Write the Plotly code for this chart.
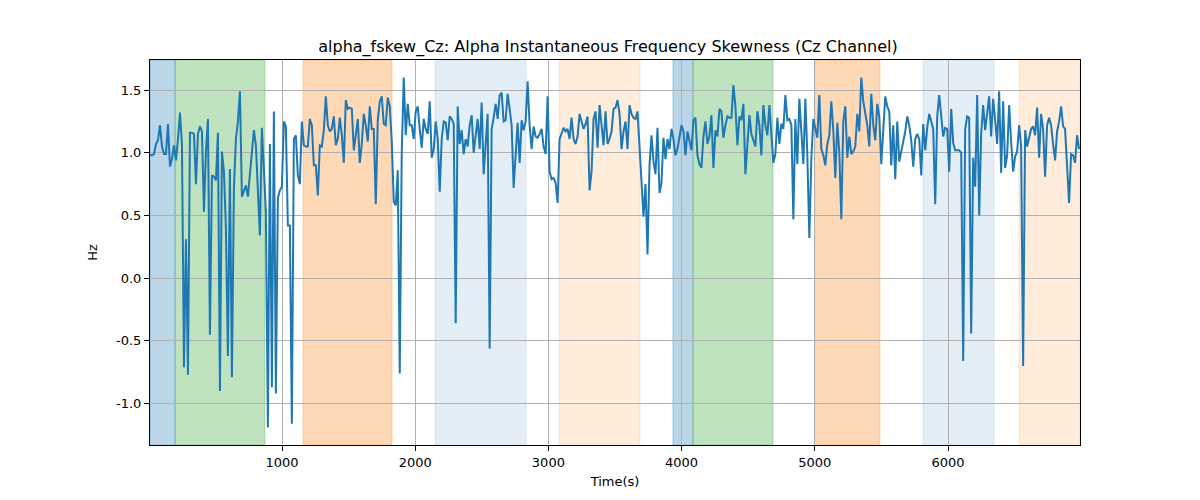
import numpy as np
import plotly.graph_objects as go

# ---- data ----
seg1 = [0.98, 0.98, 0.99, 1.07, 1.10, 1.22, 1.05, 0.99, 0.99, 1.23, 0.89, 0.95, 1.06, 0.94, 1.11, 1.32,
        1.06, -0.71, 0.31, -0.77, 1.16, 1.16, 1.15, 0.75, 1.15, 1.21, 1.17, 0.53, 1.01, 1.27, -0.45,
        0.82, 0.81, 0.78, 1.16, -0.90, 1.01, 0.85, 0.40, -0.62, 0.87, -0.79, 0.72, 1.11, 1.25, 1.49,
        0.65, 0.69, 0.74, 0.65, 0.85, 1.02, 1.18, 1.06, 0.69, 0.34, 1.20, 0.85, 0.53, -1.19, 1.07,
        -0.87, 1.33, -0.92, 0.64, 0.70, 0.73]
seg2 = [1.25, 1.21, 0.42, 0.42, -1.16, 1.11, 1.14, 0.82, 0.75, 1.25, 1.06, 1.05, 1.05, 1.27, 1.22,
        0.90, 0.90, 0.66, 1.06, 1.05, 1.18, 1.45, 1.22, 1.17, 1.19, 1.29, 1.06, 1.11, 1.28, 1.14,
        0.92, 1.42, 1.35, 1.36, 1.35, 1.02, 1.14, 1.27, 0.92, 1.07, 1.31, 1.22, 1.09, 1.37, 1.19,
        1.19, 0.59, 1.26, 1.41, 1.45, 1.23, 1.22, 1.44, 1.37, 1.09, 0.61, 0.58, 0.86, -0.76, 1.01,
        1.60, 1.14, 1.39, 1.22, 1.22, 1.11, 1.33]
seg3 = [1.37, 1.19, 1.04, 1.27, 1.19, 1.15, 1.41, 0.96, 1.03, 1.25, 1.11, 0.69, 1.11, 1.25, 1.24,
        1.10, 1.29, 1.27, 1.23, -0.36, 1.37, 1.07, 1.18, 0.99, 1.11, 1.05, 1.22, 1.30, 1.00, 1.14,
        1.27, 1.03, 1.40, 0.83, 1.06, 1.31, -0.56, 1.19, 1.28, 1.39, 1.27, 1.46, 1.48, 1.25, 1.26,
        1.47, 1.35, 1.22, 0.72, 0.98, 1.24, 0.92, 1.26, 1.18, 1.25, 1.57, 1.22, 1.03, 1.21, 1.13,
        1.12, 1.15, 1.19, 1.05, 0.99, 1.45, 0.85, 0.79]
seg4 = [0.80, 0.76, 0.60, 1.11, 1.15, 1.20, 1.17, 1.19, 1.11, 1.28, 1.11, 1.07, 1.13, 1.31, 1.25,
        1.19, 1.23, 1.29, 0.70, 0.85, 1.27, 1.33, 1.04, 1.38, 1.22, 1.06, 1.33, 1.07, 1.11, 1.17,
        1.35, 1.36, 1.42, 1.31, 1.03, 1.17, 1.25, 1.03, 1.38, 1.31, 1.28, 1.27, 1.33, 1.03, 0.76,
        0.49, 0.75, 0.19, 0.90, 1.14, 0.93, 0.83, 1.20, 0.68, 0.76, 1.12, 0.95, 1.11, 1.03, 1.19,
        1.11, 0.98, 1.03, 1.11, 1.22, 1.17, 0.98]
seg5 = [1.17, 1.10, 1.02, 1.26, 1.28, 0.98, 0.91, 0.88, 1.13, 1.25, 1.07, 1.13, 1.30, 0.88, 1.18,
        1.13, 1.35, 1.33, 1.12, 1.22, 1.29, 1.28, 1.28, 1.54, 1.37, 1.06, 1.29, 1.26, 1.39, 0.83,
        1.06, 1.30, 1.15, 1.10, 1.05, 1.33, 1.22, 0.98, 1.38, 1.22, 1.14, 1.38, 1.14, 0.92, 0.99,
        1.28, 1.07, 1.23, 1.19, 1.46, 1.26, 1.27, 1.22, 0.47, 1.27, 0.91, 1.43, 1.19, 0.91, 1.43,
        0.98, 0.32, 0.95, 1.27, 1.18, 1.12, 1.46, 1.03]
seg6 = [0.98, 0.90, 1.07, 1.14, 1.41, 1.18, 0.80, 1.24, 1.00, 0.47, 1.25, 1.37, 0.96, 1.13, 0.99,
        1.01, 1.05, 1.31, 1.17, 1.60, 1.41, 1.30, 1.22, 1.05, 1.47, 1.22, 1.10, 1.39, 1.29, 0.91,
        1.20, 1.45, 1.37, 1.33, 0.90, 1.22, 0.79, 1.25, 0.93, 1.01, 1.10, 1.17, 1.29, 1.22, 1.10,
        0.89, 1.11, 1.15, 1.11, 0.82, 1.23, 1.02, 1.20, 1.31, 1.25, 1.19, 0.59, 1.29, 1.46, 1.30,
        1.13, 1.20, 1.19, 0.85, 1.35, 1.08, 1.02]
seg7 = [1.02, 1.02, 1.00, -0.66, 1.19, 1.29, 1.28, -0.44, 0.96, 0.73, 1.46, 0.50, 1.15, 1.38, 1.18,
        1.33, 1.45, 1.13, 1.43, 1.26, 1.07, 1.49, 0.84, 1.41, 0.88, 0.98, 1.38, 1.09, 0.85, 0.97,
        1.01, 1.22, 1.05, -0.70, 1.18, 1.05, 1.13, 1.19, 1.21, 1.14, 1.36, 0.96, 1.31, 1.19, 0.81,
        1.22, 1.28, 1.22, 1.07, 0.94, 1.17, 1.25, 1.37, 1.21, 1.19, 0.88, 0.60, 0.99, 0.98, 0.92,
        1.14, 1.03]
values = seg1 + seg2 + seg3 + seg4 + seg5 + seg6 + seg7

t_start = 9.0
t_step = 15.0
time = t_start + t_step * np.arange(len(values))

# shaded spans: (start, end, color)
span_starts = [9, 197, 1158, 2149, 3080, 3935, 4085, 5000, 5812, 6533]
span_ends = [197, 872, 1826, 2832, 3688, 4085, 4686, 5489, 6345, 6991]
span_colors = ["rgba(31,119,180,0.3)", "rgba(44,160,44,0.3)", "rgba(255,127,14,0.3)",
               "rgba(31,119,180,0.12)", "rgba(255,127,14,0.15)", "rgba(31,119,180,0.3)",
               "rgba(44,160,44,0.3)", "rgba(255,127,14,0.3)", "rgba(31,119,180,0.12)",
               "rgba(255,127,14,0.15)"]

x_ticks = [1000, 2000, 3000, 4000, 5000, 6000]
y_ticks = [-1.0, -0.5, 0.0, 0.5, 1.0, 1.5]

fig = go.Figure()
for a, b, c in zip(span_starts, span_ends, span_colors):
    fig.add_vrect(x0=a, x1=b, fillcolor=c, line=dict(color=c, width=1), layer="below")

fig.add_trace(go.Scatter(x=time, y=values, mode="lines",
                         line=dict(color="#1f77b4", width=2), showlegend=False))

axis_common = dict(showgrid=True, gridcolor="#b0b0b0", gridwidth=1, zeroline=False,
                   showline=True, linecolor="black", linewidth=1, mirror=True,
                   ticks="outside", ticklen=5, tickcolor="black",
                   tickfont=dict(size=13, color="black"))

fig.update_layout(
    width=1200, height=500,
    margin=dict(l=142, r=128, t=52, b=63),
    paper_bgcolor="white", plot_bgcolor="white",
    font=dict(family="DejaVu Sans", color="black"),
    title=dict(text="alpha_fskew_Cz: Alpha Instantaneous Frequency Skewness (Cz Channel)",
               x=0.5, xanchor="center", y=0.924, yanchor="middle",
               font=dict(size=16, color="black")),
)
fig.update_xaxes(range=[9, 6991], tickvals=x_ticks, ticktext=[str(v) for v in x_ticks],
                 title=dict(text="Time(s)", font=dict(size=13), standoff=8), **axis_common)
fig.update_yaxes(range=[-1.33, 1.74], tickvals=y_ticks, ticktext=[f"{v:.1f}" for v in y_ticks],
                 title=dict(text="Hz", font=dict(size=13), standoff=15), **axis_common)

fig.write_html("out.html")
